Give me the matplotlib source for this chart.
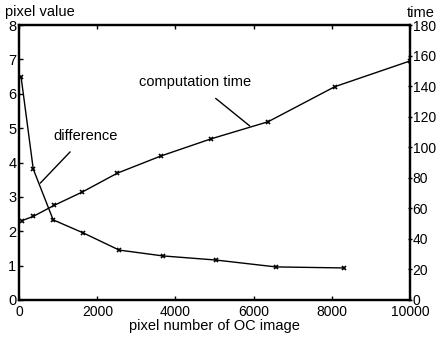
import numpy as np
import matplotlib
matplotlib.use('Agg')
import matplotlib.pyplot as plt

plt.rcParams['font.family'] = ['Liberation Sans', 'DejaVu Sans']

# difference curve (left axis, pixel value)
diff_x = [50, 360, 870, 1640, 2560, 3680, 5040, 6570, 8310]
diff_y = [6.48, 3.81, 2.33, 1.95, 1.45, 1.28, 1.16, 0.96, 0.93]

# computation time curve (right axis, time)
time_x = [80, 360, 900, 1610, 2510, 3630, 4910, 6370, 8080, 10000]
time_y = [52, 54.7, 62, 70.6, 83, 94.3, 105.5, 116.7, 139.7, 156.5]

xticks = [0, 2000, 4000, 6000, 8000, 10000]
left_ticks = [0, 1, 2, 3, 4, 5, 6, 7, 8]
right_ticks = [0, 20, 40, 60, 80, 100, 120, 140, 160, 180]

fig = plt.figure(figsize=(4.36, 3.40), dpi=100)
ax = fig.add_axes([0.044, 0.118, 0.896, 0.808])
ax2 = ax.twinx()

ax.plot(diff_x, diff_y, color='black', lw=1.0, marker='x', ms=3.5, mew=1.2)
ax2.plot(time_x, time_y, color='black', lw=1.0, marker='x', ms=3.5, mew=1.2)

ax.set_xlim(0, 10000)
ax.set_ylim(0, 8)
ax2.set_ylim(0, 180)
ax.set_xticks(xticks)
ax.set_yticks(left_ticks)
ax2.set_yticks(right_ticks)

for a in (ax, ax2):
    for s in a.spines.values():
        s.set_linewidth(1.6)
ax.tick_params(axis='both', direction='in', length=3, width=1, labelsize=10.5,
               top=True)
ax.tick_params(axis='x', pad=4, labelsize=10)
ax.tick_params(axis='y', pad=2)
ax2.tick_params(axis='y', direction='inout', length=3, width=1, labelsize=10, pad=0.5)

ax.set_xlabel('pixel number of OC image', fontsize=10.5, labelpad=0)
fig.text(0.012, 0.965, 'pixel value', fontsize=10.5, va='center', ha='left')
fig.text(0.998, 0.962, 'time', fontsize=10.5, va='center', ha='right')

# annotations
ax.annotate('difference', xy=(540, 3.4), xytext=(1690, 4.77),
            fontsize=10.5, ha='center', va='center',
            arrowprops=dict(arrowstyle='-', color='black', lw=1, shrinkA=6, shrinkB=0))
ax2.annotate('computation time', xy=(5900, 114), xytext=(4500, 143),
             fontsize=10.5, ha='center', va='center',
             arrowprops=dict(arrowstyle='-', color='black', lw=1, shrinkA=8, shrinkB=0))

fig.savefig('out.png', dpi=100, facecolor='w')
